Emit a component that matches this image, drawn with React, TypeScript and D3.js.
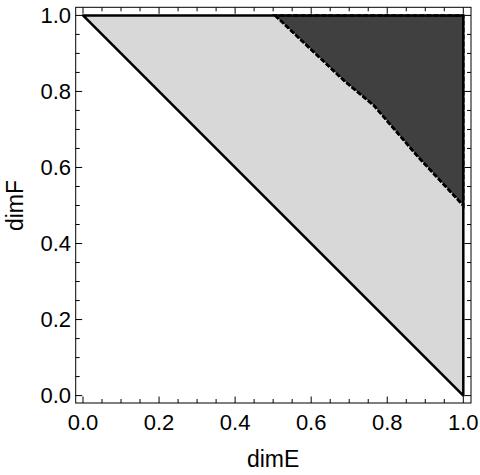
import React from "react";
import * as d3 from "d3";

const lightRegionE = [0, 1, 1];
const lightRegionF = [1, 1, 0];
const darkBoundaryE = [0.505, 0.6, 0.689, 0.764, 0.882, 1];
const darkBoundaryF = [1, 0.91, 0.826, 0.764, 0.627, 0.5];
const majorTicks = [0, 0.2, 0.4, 0.6, 0.8, 1.0];
const tickLabels = ["0.0", "0.2", "0.4", "0.6", "0.8", "1.0"];
const xLabel = "dimE";
const yLabel = "dimF";

export default function App() {
  const W = 480, H = 475;
  const frame = { left: 75.7, right: 471, top: 7.3, bottom: 403 };
  const x = d3.scaleLinear().domain([0, 1]).range([83, 463.3]);
  const y = d3.scaleLinear().domain([0, 1]).range([395.6, 15.4]);
  const minorTicks = d3.range(0, 1.0001, 0.05).map((v) => +v.toFixed(2))
    .filter((v) => !majorTicks.some((m) => Math.abs(m - v) < 1e-6));
  const line = d3.line<[number, number]>().x((d) => x(d[0])).y((d) => y(d[1]));

  const lightPts: [number, number][] = lightRegionE.map((e, i) => [e, lightRegionF[i]]);
  const darkCurve: [number, number][] = darkBoundaryE.map((e, i) => [e, darkBoundaryF[i]]);
  const darkPts: [number, number][] = [...darkCurve, [1, 1]];

  const font = "'Liberation Sans', Arial, Helvetica, sans-serif";
  const majLen = 6.5, minLen = 4;

  return (
    <svg width={W} height={H} style={{ position: "absolute", left: 0, top: 0 }}>
      <rect x={0} y={0} width={W} height={H} fill="white" />
      <path d={line(lightPts)! + "Z"} fill="#d8d8d8" stroke="none" />
      <path d={line(darkPts)! + "Z"} fill="#404040" stroke="none" />
      <path d={line(lightPts)! + "Z"} fill="none" stroke="#000" strokeWidth={2.5} strokeLinejoin="round" />
      <path d={line(darkPts)! + "Z"} fill="none" stroke="#000" strokeWidth={2.5} strokeDasharray="5,2" />
      <path d={line(darkCurve)!} fill="none" stroke="#000" strokeWidth={2.5} strokeDasharray="5,2" />

      <rect x={frame.left} y={frame.top} width={frame.right - frame.left} height={frame.bottom - frame.top}
        fill="none" stroke="#000" strokeWidth={1} />
      {majorTicks.map((t) => (
        <g key={"M" + t} stroke="#000" strokeWidth={1}>
          <line x1={x(t)} x2={x(t)} y1={frame.bottom} y2={frame.bottom - majLen} />
          <line x1={x(t)} x2={x(t)} y1={frame.top} y2={frame.top + majLen} />
          <line y1={y(t)} y2={y(t)} x1={frame.left} x2={frame.left + majLen} />
          <line y1={y(t)} y2={y(t)} x1={frame.right} x2={frame.right - majLen} />
        </g>
      ))}
      {minorTicks.map((t) => (
        <g key={"m" + t} stroke="#000" strokeWidth={1}>
          <line x1={x(t)} x2={x(t)} y1={frame.bottom} y2={frame.bottom - minLen} />
          <line x1={x(t)} x2={x(t)} y1={frame.top} y2={frame.top + minLen} />
          <line y1={y(t)} y2={y(t)} x1={frame.left} x2={frame.left + minLen} />
          <line y1={y(t)} y2={y(t)} x1={frame.right} x2={frame.right - minLen} />
        </g>
      ))}
      {majorTicks.map((t, i) => (
        <text key={"xl" + t} x={x(t)} y={430} textAnchor="middle" fontFamily={font} fontSize={22} fill="#000">
          {tickLabels[i]}
        </text>
      ))}
      {majorTicks.map((t, i) => (
        <text key={"yl" + t} x={71} y={y(t) + 7.5} textAnchor="end" fontFamily={font} fontSize={22} fill="#000">
          {tickLabels[i]}
        </text>
      ))}
      <text x={(x(0) + x(1)) / 2} y={467} textAnchor="middle" fontFamily={font} fontSize={23} fill="#000">
        {xLabel}
      </text>
      <text transform={`translate(23, ${(y(0) + y(1)) / 2}) rotate(-90)`} textAnchor="middle"
        fontFamily={font} fontSize={23} fill="#000">
        {yLabel}
      </text>
    </svg>
  );
}
